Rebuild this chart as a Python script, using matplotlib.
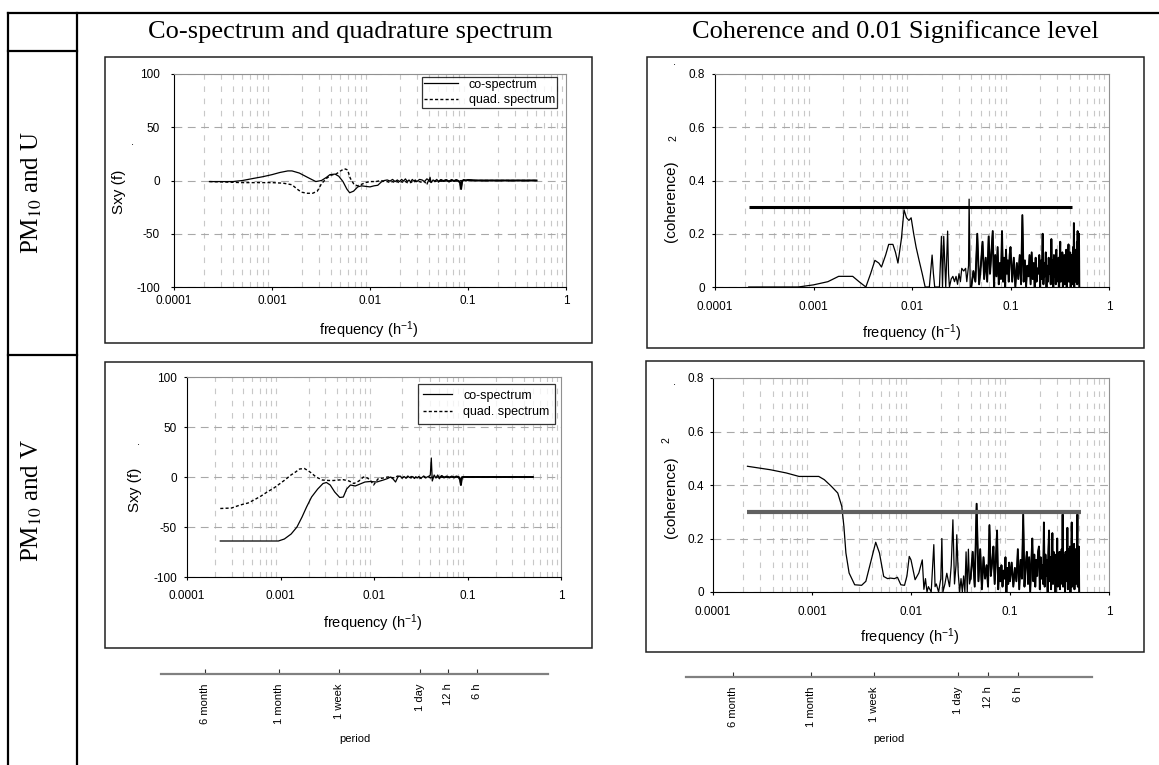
import matplotlib
matplotlib.use('Agg')
import matplotlib.pyplot as plt
from matplotlib.lines import Line2D
from matplotlib.patches import Rectangle
from matplotlib.ticker import LogLocator, NullFormatter, NullLocator

plt.rcParams['font.family'] = ['Liberation Sans', 'DejaVu Sans']
plt.rcParams['mathtext.fontset'] = 'custom'
plt.rcParams['mathtext.rm'] = 'Liberation Sans'
plt.rcParams['mathtext.it'] = 'Liberation Sans:italic'
plt.rcParams['mathtext.bf'] = 'Liberation Sans:bold'
plt.rcParams['axes.unicode_minus'] = False

# ---------------- axes / labels ----------------
freq_ticks = [1e-4, 1e-3, 1e-2, 1e-1, 1]
freq_ticklabels = ['0.0001', '0.001', '0.01', '0.1', '1']
sxy_ticks = [-100, -50, 0, 50, 100]
coh_ticks = [0, 0.2, 0.4, 0.6, 0.8]
coh_ticklabels = ['0', '0.2', '0.4', '0.6', '0.8']

period_labels = ['6 month', '1 month', '1 week', '1 day', '12 h', '6 h']
period_hours = [4320, 720, 168, 24, 12, 6]

# ---------------- PM10 and U : co / quad spectrum ----------------
co_u_f = [2.3e-4, 3.0e-4, 4.0e-4, 5.0e-4, 6.5e-4, 8.0e-4, 1.0e-3, 1.2e-3, 1.45e-3, 1.6e-3,
          1.9e-3, 2.3e-3, 2.8e-3, 3.2e-3, 3.6e-3, 3.9e-3, 4.4e-3, 4.8e-3, 5.3e-3, 5.8e-3,
          6.2e-3, 6.8e-3, 7.5e-3, 8.2e-3, 9.0e-3, 1.0e-2, 1.1e-2, 1.2e-2, 1.3e-2, 1.4e-2]
co_u = [-1, -1, -1, 0, 2, 3.5, 5.5, 7.5, 9, 9,
        7, 3, -1, 0, 3, 5.5, 6, 4, -1, -8,
        -11.5, -10, -6, -5, -5.5, -6, -5, -4.5, -1.5, 0]

quad_u_f = [2.3e-4, 3.5e-4, 5.0e-4, 7.0e-4, 1.0e-3, 1.3e-3, 1.6e-3, 1.8e-3, 2.0e-3, 2.3e-3,
            2.6e-3, 2.9e-3, 3.2e-3, 3.6e-3, 4.0e-3, 4.5e-3, 5.0e-3, 5.5e-3, 5.9e-3, 6.3e-3,
            6.8e-3, 7.4e-3, 8.0e-3, 9.0e-3, 1.0e-2, 1.15e-2, 1.3e-2, 1.4e-2]
quad_u = [-1, -1.5, -2, -2, -2, -2.5, -4, -8, -11, -12,
          -12, -10, -3, 2, 5, 6, 9, 11, 10, 2,
          -3, -5, -4, -2, -1, -1, 0, -1]

# high-frequency part shared by the Sxy panels
sxy_hf_f = [0.015, 0.016, 0.017, 0.018, 0.019, 0.020, 0.021, 0.022, 0.023, 0.024,
            0.025, 0.026, 0.027, 0.028, 0.029, 0.030, 0.032, 0.034, 0.036, 0.038,
            0.039, 0.040, 0.041, 0.042, 0.044, 0.046, 0.048, 0.050, 0.053, 0.056,
            0.060, 0.064, 0.068, 0.072, 0.076, 0.080, 0.083, 0.085, 0.087, 0.090,
            0.095, 0.10, 0.12, 0.15, 0.20, 0.30, 0.40, 0.50]
co_u_hf = [0.5, -0.5, 1, -1, 0.5, -1, 1, -0.5, 1.5, -1,
           0.5, -1.5, 1, -0.5, 0.5, -1, 1, 0.5, -1, 1.5,
           1, -1, 3, -2, 0.5, -0.5, 1, -1, 0.5, -0.5,
           0.5, -1, 0.5, -0.5, 0.5, -0.5, -2, -8, -1, 0.5,
           0, 0.5, 0, 0, 0, 0, 0, 0]
quad_u_hf = [-1, -2, -1, -2, -1, -2.5, -1, -2, -1, -2,
             -1.5, -2, -1, -2, -0.5, -1.5, -1, -2, -1, -4,
             -1, 0, -1, -1.5, -0.5, -1, -0.5, -1, -0.5, -1,
             0, -1, -0.5, 0, -0.5, 0, -0.5, 0, -1, 0,
             0, 0, 0, 0, 0, 0, 0, 0]

# ---------------- PM10 and V : co / quad spectrum ----------------
co_v_f = [2.27e-4, 4.0e-4, 6.0e-4, 8.0e-4, 9.5e-4, 1.1e-3, 1.3e-3, 1.5e-3, 1.7e-3, 1.9e-3,
          2.15e-3, 2.5e-3, 2.85e-3, 3.1e-3, 3.4e-3, 3.8e-3, 4.3e-3, 4.7e-3, 5.1e-3, 5.6e-3,
          6.3e-3, 7.1e-3, 8.0e-3, 9.1e-3, 1.07e-2, 1.26e-2, 1.4e-2]
co_v = [-64, -64, -64, -64, -64, -62, -57, -50, -40, -30,
        -20, -12, -6.5, -5.5, -8, -15, -20.5, -20, -12, -8,
        -9, -7, -5, -4.5, -5, -3, -1.5]

quad_v_f = [2.27e-4, 3.0e-4, 3.7e-4, 4.5e-4, 5.2e-4, 6.2e-4, 7.2e-4, 8.5e-4, 9.9e-4, 1.15e-3,
            1.27e-3, 1.45e-3, 1.6e-3, 1.8e-3, 2.0e-3, 2.2e-3, 2.4e-3, 2.8e-3, 3.3e-3, 3.7e-3,
            4.2e-3, 4.7e-3, 5.4e-3, 6.1e-3, 6.9e-3, 7.7e-3, 8.5e-3, 9.1e-3, 9.9e-3, 1.1e-2,
            1.25e-2, 1.4e-2]
quad_v = [-31.5, -31, -28, -26, -23, -19, -15, -11, -6.5, -2,
          1.5, 5, 8, 8.5, 6, 3, 0, -3, -3.5, -3.5,
          -3, -2.7, -4, -6.5, -4, 0, -1, -3, -8, -2,
          -1, 0]

co_v_hf = [0, -2, -5, 0, 1, -1, 0.5, -1, 1, -0.5,
           -1, 0.5, -1.5, 0, -1, 0.5, -1, 1, -0.5, 0.5,
           1, 2, 19, -4, 2, -1, 2, -1, 1, -0.5,
           0.5, -0.5, 0.5, -0.5, 0.5, 0, -2, -8, -1, 0,
           0, 0, 0, 0, 0, 0, 0, 0]
quad_v_hf = [0, -1, 0, 1, 0, -1, 0.5, -1, 0, -1,
             0.5, -0.5, -1, 0, -1, -0.5, -1.5, 0, -1, -0.5,
             0, -1, 1, -1, 0, -0.5, 0, -0.5, 0, -0.5,
             0, -0.5, 0, 0, 0, 0, 0, -1, 0, 0,
             0, 0, 0, 0, 0, 0, 0, 0]

# ---------------- coherence ----------------
coh_hf_f = [0.040, 0.042, 0.044, 0.046, 0.048, 0.050, 0.052, 0.054, 0.056, 0.058,
            0.060, 0.062, 0.064, 0.066, 0.068, 0.070, 0.072, 0.074, 0.076, 0.078,
            0.080, 0.082, 0.084, 0.086, 0.088, 0.090, 0.092, 0.094, 0.096, 0.098,
            0.100,
            0.104, 0.108, 0.112, 0.116, 0.120, 0.124, 0.128, 0.132, 0.136, 0.140,
            0.144, 0.148, 0.152, 0.156, 0.160, 0.164, 0.168, 0.172, 0.176, 0.180,
            0.184, 0.188, 0.192, 0.196, 0.200, 0.204, 0.208, 0.212, 0.216, 0.220,
            0.224, 0.228, 0.232, 0.236, 0.240, 0.244, 0.248, 0.252, 0.256, 0.260,
            0.264, 0.268, 0.272, 0.276, 0.280, 0.284, 0.288, 0.292, 0.296, 0.300,
            0.304, 0.308, 0.312, 0.316, 0.320, 0.324, 0.328, 0.332, 0.336, 0.340,
            0.344, 0.348, 0.352, 0.356, 0.360, 0.364, 0.368, 0.372, 0.376, 0.380,
            0.384, 0.388, 0.392, 0.396, 0.400, 0.404, 0.408, 0.412, 0.416, 0.420,
            0.424, 0.428, 0.432, 0.436, 0.440, 0.444, 0.448, 0.452, 0.456, 0.460,
            0.464, 0.468, 0.472, 0.476, 0.480, 0.484, 0.488, 0.492, 0.496, 0.500]

coh_u_f = [2.2e-4, 7.0e-4, 1.0e-3, 1.4e-3, 1.8e-3, 2.5e-3, 2.9e-3, 3.4e-3, 3.8e-3, 4.2e-3,
           4.6e-3, 4.9e-3, 5.4e-3, 5.8e-3, 6.4e-3, 6.8e-3, 7.2e-3, 7.8e-3, 8.3e-3, 8.8e-3,
           9.3e-3, 9.8e-3, 1.04e-2, 1.1e-2, 1.18e-2, 1.27e-2, 1.36e-2, 1.5e-2, 1.55e-2, 1.6e-2,
           1.65e-2, 1.7e-2, 1.9e-2, 1.99e-2, 2.04e-2, 2.1e-2, 2.2e-2, 2.3e-2, 2.35e-2, 2.4e-2,
           2.5e-2, 2.6e-2, 2.7e-2, 2.8e-2, 2.9e-2, 3.0e-2, 3.1e-2, 3.2e-2, 3.35e-2, 3.5e-2,
           3.6e-2, 3.75e-2, 3.8e-2, 3.9e-2]
coh_u = [0, 0, 0.008, 0.02, 0.04, 0.04, 0.02, 0, 0.05, 0.10,
         0.09, 0.075, 0.12, 0.16, 0.16, 0.13, 0.09, 0.18, 0.29, 0.26,
         0.25, 0.26, 0.20, 0.15, 0.10, 0.05, 0, 0, 0.06, 0.12,
         0.05, 0, 0, 0.19, 0, 0.19, 0, 0.21, 0.05, 0,
         0.03, 0.04, 0.02, 0.04, 0.01, 0.05, 0.02, 0.07, 0.06, 0.07,
         0.02, 0.08, 0.33, 0]
coh_u_hf = [0.00, 0.06, 0.02, 0.20, 0.01, 0.08, 0.17, 0.03, 0.11, 0.02,
            0.19, 0.05, 0.13, 0.21, 0.00, 0.12, 0.04, 0.15, 0.01, 0.09,
            0.03, 0.21, 0.02, 0.11, 0.00, 0.14, 0.05, 0.10, 0.02, 0.12,
            0.15,
            0.02, 0.11, 0.00, 0.09, 0.03, 0.12, 0.01, 0.27, 0.02, 0.10,
            0.00, 0.08, 0.04, 0.12, 0.01, 0.13, 0.03, 0.09, 0.00, 0.11,
            0.02, 0.07, 0.05, 0.12, 0.00, 0.10, 0.03, 0.20, 0.01, 0.09,
            0.04, 0.13, 0.00, 0.08, 0.02, 0.11, 0.05, 0.09, 0.01, 0.18,
            0.03, 0.10, 0.00, 0.12, 0.04, 0.08, 0.01, 0.14, 0.02, 0.09,
            0.05, 0.11, 0.00, 0.10, 0.17, 0.02, 0.08, 0.04, 0.13, 0.00,
            0.09, 0.03, 0.12, 0.01, 0.10, 0.05, 0.14, 0.00, 0.08, 0.03,
            0.11, 0.16, 0.02, 0.09, 0.04, 0.13, 0.00, 0.10, 0.06, 0.12,
            0.01, 0.09, 0.15, 0.03, 0.24, 0.00, 0.11, 0.05, 0.14, 0.02,
            0.12, 0.07, 0.17, 0.01, 0.21, 0.04, 0.15, 0.09, 0.20, 0.00]

coh_v_f = [2.23e-4, 3.8e-4, 5.5e-4, 7.4e-4, 1.0e-3, 1.17e-3, 1.33e-3, 1.57e-3, 1.82e-3, 2.0e-3,
           2.1e-3, 2.2e-3, 2.37e-3, 2.7e-3, 3.17e-3, 3.5e-3, 3.97e-3, 4.4e-3, 4.8e-3, 5.3e-3,
           5.8e-3, 6.2e-3, 6.8e-3, 7.3e-3, 7.9e-3, 8.6e-3, 9.1e-3, 9.6e-3, 1.0e-2, 1.1e-2,
           1.2e-2, 1.3e-2, 1.35e-2, 1.4e-2, 1.45e-2, 1.5e-2, 1.6e-2, 1.7e-2, 1.75e-2, 1.8e-2,
           1.9e-2, 2.0e-2, 2.05e-2, 2.1e-2, 2.2e-2, 2.3e-2, 2.45e-2, 2.55e-2, 2.65e-2, 2.75e-2,
           2.85e-2, 2.9e-2, 3.0e-2, 3.1e-2, 3.2e-2, 3.3e-2, 3.4e-2, 3.5e-2, 3.6e-2, 3.7e-2,
           3.8e-2, 3.9e-2]
coh_v = [0.470, 0.457, 0.445, 0.432, 0.432, 0.432, 0.420, 0.395, 0.370, 0.320,
         0.245, 0.146, 0.071, 0.027, 0.025, 0.040, 0.120, 0.186, 0.146, 0.058,
         0.050, 0.052, 0.050, 0.055, 0.027, 0.025, 0.060, 0.133, 0.120, 0.046,
         0.071, 0.120, 0.010, 0.050, 0.000, 0.020, 0.000, 0.177, 0.020, 0.030,
         0.000, 0.050, 0.200, 0.000, 0.030, 0.070, 0.020, 0.100, 0.270, 0.030,
         0.100, 0.214, 0.070, 0.000, 0.050, 0.000, 0.060, 0.000, 0.150, 0.000,
         0.160, 0.030]
coh_v_hf = [0.05, 0.15, 0.02, 0.33, 0.04, 0.16, 0.01, 0.13, 0.05, 0.10,
            0.02, 0.25, 0.06, 0.11, 0.17, 0.03, 0.12, 0.23, 0.01, 0.09,
            0.04, 0.10, 0.02, 0.08, 0.05, 0.13, 0.00, 0.09, 0.03, 0.11,
            0.04,
            0.11, 0.02, 0.09, 0.04, 0.16, 0.01, 0.12, 0.05, 0.29, 0.02,
            0.10, 0.15, 0.03, 0.13, 0.00, 0.11, 0.20, 0.04, 0.14, 0.02,
            0.12, 0.06, 0.15, 0.17, 0.01, 0.13, 0.05, 0.10, 0.03, 0.26,
            0.02, 0.14, 0.06, 0.12, 0.00, 0.15, 0.23, 0.04, 0.13, 0.01,
            0.11, 0.22, 0.03, 0.15, 0.05, 0.12, 0.00, 0.14, 0.04, 0.20,
            0.02, 0.13, 0.07, 0.15, 0.01, 0.12, 0.05, 0.16, 0.03, 0.29,
            0.02, 0.14, 0.06, 0.11, 0.00, 0.15, 0.04, 0.13, 0.07, 0.24,
            0.01, 0.16, 0.05, 0.12, 0.03, 0.17, 0.00, 0.14, 0.06, 0.26,
            0.02, 0.15, 0.04, 0.13, 0.08, 0.18, 0.01, 0.12, 0.05, 0.16,
            0.03, 0.14, 0.07, 0.19, 0.29, 0.02, 0.15, 0.06, 0.17, 0.00]

# 0.01 significance level
sig_u_f = [2.2e-4, 0.42]
sig_u = [0.3, 0.3]
sig_v_f = [2.2e-4, 0.52]
sig_v = [0.3, 0.3]

# ---------------- figure ----------------
W, H = 1159, 765
fig = plt.figure(figsize=(W / 100, H / 100), dpi=100)


def fx(x):
    return x / W


def fy(y):
    return 1 - y / H


def box(x0, y0, x1, y1):
    return [fx(x0), fy(y1), (x1 - x0) / W, (y1 - y0) / H]


def hline(x0, x1, y, lw=1.6):
    fig.add_artist(Line2D([fx(x0), fx(x1)], [fy(y), fy(y)], transform=fig.transFigure,
                          color='black', lw=lw))


def vline(x, y0, y1, lw=1.6):
    fig.add_artist(Line2D([fx(x), fx(x)], [fy(y0), fy(y1)], transform=fig.transFigure,
                          color='black', lw=lw))


def frame(x0, y0, x1, y1):
    fig.add_artist(Rectangle((fx(x0), fy(y1)), (x1 - x0) / W, (y1 - y0) / H,
                             transform=fig.transFigure, fill=False, ec='#202020', lw=1.1))


# table lines
hline(8, 1159, 13)
vline(8, 13, 765)
vline(77, 13, 765)
hline(8, 77, 51)
hline(8, 77, 355)

serif = ['Liberation Serif', 'DejaVu Serif']
fig.text(fx(350), fy(32), 'Co-spectrum and quadrature spectrum', ha='center', va='center',
         fontsize=19, family=serif)
fig.text(fx(895), fy(32), 'Coherence and 0.01 Significance level', ha='center', va='center',
         fontsize=19, family=serif)
fig.text(fx(32), fy(192), 'PM$_{10}$ and U', rotation=90, ha='center', va='center',
         fontsize=18, family=serif, math_fontfamily='stix')
fig.text(fx(32), fy(500), 'PM$_{10}$ and V', rotation=90, ha='center', va='center',
         fontsize=18, family=serif, math_fontfamily='stix')

# chart frames
frame(105, 57, 592, 343)
frame(647, 57, 1144, 348)
frame(105, 362, 592, 648)
frame(646, 361, 1144, 652)


def freq_axes(rect, xpad, ypad):
    ax = fig.add_axes(box(*rect))
    ax.set_xscale('log')
    ax.set_xlim(1e-4, 1)
    ax.set_xticks(freq_ticks)
    ax.set_xticklabels(freq_ticklabels)
    ax.xaxis.set_minor_locator(LogLocator(base=10, subs=(2, 3, 4, 5, 6, 7, 8, 9), numticks=30))
    ax.xaxis.set_minor_formatter(NullFormatter())
    ax.tick_params(axis='x', which='minor', length=0)
    ax.tick_params(axis='x', which='major', direction='out', length=2.5, width=0.8,
                   pad=xpad, labelsize=8.5)
    ax.tick_params(axis='y', direction='out', length=2.5, width=0.8, pad=ypad, labelsize=8.5)
    ax.grid(True, axis='x', which='minor', color='#c8c8c8', lw=0.8, ls=(0, (5, 6)))
    ax.grid(True, axis='y', which='major', color='#a8a8a8', lw=0.8, ls=(0, (7, 5)))
    ax.set_axisbelow(True)
    for s in ('top', 'right'):
        ax.spines[s].set_color('#909090')
        ax.spines[s].set_linewidth(0.8)
    for s in ('left', 'bottom'):
        ax.spines[s].set_linewidth(0.8)
    return ax


def sxy_panel(rect, xpad, ypad, lf, hf_f, legend_kw):
    ax = freq_axes(rect, xpad, ypad)
    ax.set_ylim(-100, 100)
    ax.set_yticks(sxy_ticks)
    (cf, cv, chf), (qf, qv, qhf) = lf
    l1, = ax.plot(cf + hf_f, cv + chf, color='black', lw=0.9)
    l2, = ax.plot(qf + hf_f, qv + qhf, color='black', lw=1.0, ls=(0, (2.2, 1.6)))
    ax.plot(hf_f[27:], chf[27:], color='black', lw=1.4)
    leg = ax.legend([l1, l2], ['co-spectrum', 'quad. spectrum'], loc='upper right',
                    frameon=True, fancybox=False, edgecolor='black', fontsize=9,
                    handletextpad=0.9, **legend_kw)
    leg.get_frame().set_linewidth(0.9)
    return ax


def coh_panel(rect, xpad, ypad, f, v, hf_v, sf, sv, scol, slw):
    ax = freq_axes(rect, xpad, ypad)
    ax.set_ylim(0, 0.8)
    ax.set_yticks(coh_ticks)
    ax.set_yticklabels(coh_ticklabels)
    ax.plot(f + coh_hf_f, v + hf_v, color='black', lw=0.9)
    # the dense high-frequency part looks almost filled in the original
    ax.plot(coh_hf_f, hf_v, color='black', lw=1.35)
    ax.plot(sf, sv, color=scol, lw=slw, solid_capstyle='butt')
    return ax


sxy_panel((174, 74, 566, 287), 3.6, 7.5,
          ((co_u_f, co_u, co_u_hf), (quad_u_f, quad_u, quad_u_hf)), sxy_hf_f,
          dict(bbox_to_anchor=(0.977, 0.986), borderpad=0.15, labelspacing=0.25,
               borderaxespad=0, handlelength=2.7))
sxy_panel((187, 377, 561, 577), 7.2, 4.7,
          ((co_v_f, co_v, co_v_hf), (quad_v_f, quad_v, quad_v_hf)), sxy_hf_f,
          dict(bbox_to_anchor=(0.984, 0.965), borderpad=0.45, labelspacing=0.35,
               borderaxespad=0, handlelength=2.3))
coh_panel((715, 74, 1109, 287), 7.9, 4.7, coh_u_f, coh_u, coh_u_hf,
          sig_u_f, sig_u, 'black', 2.2)
coh_panel((713, 378, 1109, 592), 7.9, 4.0, coh_v_f, coh_v, coh_v_hf,
          sig_v_f, sig_v, '#606060', 3.0)

# axis titles
flab = 'frequency (h$^{-1}$)'
fig.text(fx(369), fy(330), flab, ha='center', va='center', fontsize=10.5)
fig.text(fx(373), fy(623), flab, ha='center', va='center', fontsize=10.5)
fig.text(fx(912), fy(333), flab, ha='center', va='center', fontsize=10.5)
fig.text(fx(910), fy(637), flab, ha='center', va='center', fontsize=10.5)
fig.text(fx(119), fy(192), 'Sxy (f)', rotation=90, ha='center', va='center', fontsize=11)
fig.text(fx(135), fy(490), 'Sxy (f)', rotation=90, ha='center', va='center', fontsize=11)
fig.text(fx(671), fy(201), '(coherence)', rotation=90, ha='center', va='center', fontsize=11)
fig.text(fx(671), fy(497), '(coherence)', rotation=90, ha='center', va='center', fontsize=11)
fig.text(fx(673), fy(138), '2', rotation=90, ha='center', va='center', fontsize=7.5)
fig.text(fx(666), fy(440), '2', rotation=90, ha='center', va='center', fontsize=7.5)
for x, y in [(132, 142), (138, 442), (674, 62), (674, 382)]:
    fig.text(fx(x), fy(y), '.', ha='center', va='center', fontsize=8)


# period axes under the panels
def period_axis(x0, x1, y, lo, hi):
    ax = fig.add_axes(box(x0, y - 10, x1, y))
    ax.patch.set_visible(False)
    ax.set_xscale('log')
    ax.set_xlim(lo, hi)
    ax.set_xticks([1.0 / h for h in period_hours])
    ax.set_xticklabels(period_labels, rotation=90, fontsize=8)
    ax.xaxis.set_minor_locator(NullLocator())
    ax.set_yticks([])
    for s in ('top', 'left', 'right'):
        ax.spines[s].set_visible(False)
    ax.spines['bottom'].set_color('#808080')
    ax.spines['bottom'].set_linewidth(1.6)
    ax.tick_params(axis='x', direction='in', length=3.5, width=0.8, color='#303030', pad=6.5)
    fig.text(fx((x0 + x1) / 2), fy(739), 'period', ha='center', va='center', fontsize=8,
             family=['Liberation Sans Narrow', 'Liberation Sans'])
    return ax


period_axis(161, 548, 674, 10 ** -4.101, 10 ** -0.0315)
period_axis(686, 1092, 677, 10 ** -4.11, 10 ** -0.035)

fig.savefig('out.png', dpi=100)
